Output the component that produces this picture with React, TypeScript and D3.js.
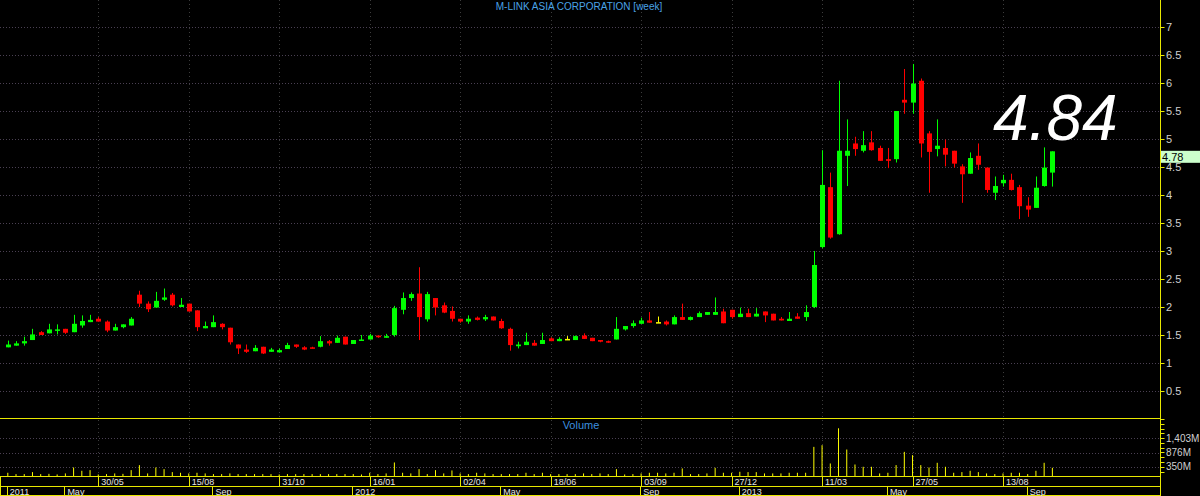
import React from "react";
import * as d3 from "d3";

const TITLE = "M-LINK ASIA CORPORATION [week]";
const LAST_BIG = "4.84";

const open = [1.28,1.31,1.35,1.41,1.55,1.53,1.58,1.61,1.55,1.67,1.73,1.79,1.74,1.58,1.64,1.67,2.22,2.06,1.99,2.13,2.22,2.00,2.06,1.94,1.62,1.64,1.70,1.63,1.33,1.24,1.21,1.29,1.20,1.19,1.25,1.33,1.28,1.28,1.29,1.39,1.36,1.47,1.34,1.41,1.42,1.49,1.45,1.50,1.95,2.16,2.24,1.78,2.16,2.03,1.93,1.79,1.74,1.81,1.78,1.83,1.75,1.61,1.30,1.32,1.36,1.34,1.44,1.39,1.43,1.41,1.49,1.45,1.41,1.39,1.42,1.60,1.66,1.70,1.76,1.73,1.74,1.69,1.82,1.77,1.82,1.86,1.86,1.92,1.95,1.82,1.89,1.83,1.92,1.88,1.79,1.75,1.83,1.82,2.00,3.07,4.14,3.30,4.70,4.92,4.79,4.94,4.84,4.64,4.64,5.70,5.65,6.04,5.10,4.82,4.84,4.79,4.51,4.38,4.70,4.49,4.04,4.21,4.27,4.14,3.81,3.77,4.16,4.40];
const high = [1.40,1.39,1.47,1.61,1.57,1.70,1.69,1.61,1.86,1.85,1.86,1.82,1.76,1.70,1.69,1.82,2.29,2.10,2.27,2.33,2.25,2.16,2.06,1.94,1.74,1.85,1.71,1.63,1.33,1.33,1.32,1.29,1.27,1.26,1.36,1.33,1.30,1.29,1.48,1.41,1.49,1.47,1.41,1.50,1.52,1.49,1.52,2.02,2.26,2.26,2.71,2.27,2.16,2.08,2.01,1.79,1.85,1.83,1.86,1.83,1.79,1.63,1.38,1.54,1.41,1.54,1.46,1.46,1.48,1.49,1.53,1.45,1.41,1.40,1.82,1.66,1.76,1.81,1.91,1.83,1.76,1.85,2.06,1.83,1.92,1.91,2.17,1.97,1.95,1.99,1.97,1.98,1.92,1.88,1.82,1.91,1.89,2.03,3.00,4.80,4.40,6.04,5.35,5.04,5.14,5.14,4.88,4.84,5.50,6.25,6.34,6.08,5.14,5.35,4.99,4.79,4.55,4.76,4.92,4.49,4.33,4.36,4.38,4.18,3.96,4.33,4.85,4.78];
const low = [1.28,1.31,1.31,1.41,1.50,1.53,1.51,1.52,1.55,1.63,1.73,1.74,1.55,1.58,1.62,1.67,2.00,1.91,1.99,2.11,2.01,2.00,1.92,1.57,1.62,1.64,1.60,1.33,1.16,1.18,1.21,1.16,1.20,1.19,1.25,1.27,1.23,1.26,1.28,1.31,1.36,1.33,1.34,1.41,1.42,1.45,1.45,1.47,1.87,2.11,1.41,1.74,1.85,1.89,1.74,1.72,1.70,1.76,1.75,1.76,1.61,1.22,1.26,1.32,1.31,1.34,1.39,1.39,1.42,1.41,1.43,1.39,1.37,1.36,1.42,1.58,1.63,1.70,1.72,1.72,1.67,1.69,1.77,1.76,1.82,1.86,1.86,1.71,1.79,1.82,1.82,1.83,1.73,1.76,1.76,1.75,1.79,1.75,1.98,3.05,3.22,3.29,4.16,4.70,4.76,4.79,4.61,4.48,4.58,5.45,5.45,4.67,4.04,4.69,4.51,4.49,3.86,4.38,4.45,4.04,3.91,4.15,4.08,3.57,3.61,3.77,4.15,4.15];
const close = [1.33,1.35,1.39,1.51,1.50,1.60,1.60,1.54,1.70,1.75,1.77,1.74,1.58,1.64,1.69,1.79,2.06,1.96,2.11,2.17,2.03,2.04,1.92,1.64,1.66,1.73,1.64,1.37,1.26,1.20,1.27,1.17,1.24,1.23,1.32,1.29,1.24,1.26,1.39,1.35,1.45,1.33,1.41,1.42,1.49,1.46,1.48,1.98,2.16,2.23,1.82,2.23,1.99,1.90,1.79,1.74,1.79,1.77,1.82,1.76,1.62,1.32,1.33,1.38,1.31,1.41,1.39,1.43,1.43,1.48,1.43,1.39,1.38,1.37,1.61,1.66,1.71,1.76,1.72,1.73,1.69,1.82,1.77,1.82,1.89,1.91,1.91,1.71,1.82,1.88,1.82,1.88,1.85,1.76,1.76,1.79,1.79,1.91,2.75,4.18,3.24,4.79,4.79,4.82,4.89,4.80,4.61,4.61,5.50,5.65,5.99,4.92,4.77,4.88,4.72,4.56,4.37,4.66,4.54,4.09,4.16,4.27,4.09,3.80,3.74,4.13,4.49,4.78];
// volume in millions
const volume = [130,81,81,154,81,90,68,105,325,203,227,68,81,105,90,227,411,105,325,264,154,130,105,130,105,81,81,105,81,81,81,81,81,68,81,81,81,81,81,81,81,81,81,68,130,81,105,509,130,105,264,81,227,105,215,105,81,130,105,81,81,81,81,130,81,130,81,81,81,81,105,81,105,81,264,68,81,105,130,130,105,130,289,81,81,105,313,130,130,166,154,154,105,105,105,130,130,130,1084,1145,472,1768,986,435,350,350,105,130,411,900,778,411,325,497,350,130,154,203,154,105,81,105,130,130,81,203,497,313];

const priceTicks = [0.5,1,1.5,2,2.5,3,3.5,4,4.5,5,5.5,6,6.5,7];
const volTickLabels = ["350M","876M","1,403M"];
const volTickValues = [350,876,1403];
const dateLabels = ["30/05","15/08","31/10","16/01","02/04","18/06","03/09","27/12","11/03","27/05","13/08"];
const dateIdx = [11,22,33,44,55,66,77,88,99,110,121];
const periodLabels = ["2011","May","Sep","2012","May","Sep","2013","May","Sep"];
const periodIdx = [0,7,25,42,60,77,89,107,124];

const W = 1200, H = 496;
const AXIS_X = 1160.5;
const YEL = "#e8e800";
const FONT = "'Liberation Sans', Arial, sans-serif";

export default function App() {
  const n = open.length;
  const x = d3.scaleLinear().domain([0, n - 1]).range([7.8, 7.8 + (n - 1) * 8.225]);
  const y = d3.scaleLinear().domain([0, 7.482]).range([419, 0]);
  const yv = d3.scaleLinear().domain([0, 1753]).range([476.3, 428.7]);
  const volMinor = d3.range(1, 13).map((k) => k * 175.4);
  const bodyW = 5;

  const candles = d3.range(n).map((i) => {
    const o = open[i], c = close[i];
    const col = c > o ? "#00ff00" : c < o ? "#ff0000" : "#ffff00";
    const cx = Math.round(x(i)) + 0.5;
    const top = y(Math.max(o, c));
    const bot = y(Math.min(o, c));
    return (
      <g key={i}>
        <line x1={cx} x2={cx} y1={y(high[i])} y2={y(low[i])} stroke={col} strokeWidth={1} />
        <rect x={cx - bodyW / 2} y={top} width={bodyW} height={Math.max(1.5, bot - top)} fill={col} />
      </g>
    );
  });

  return (
    <>
      <style>{"body{margin:0;background:#000}"}</style>
      <svg width={W} height={H} style={{ display: "block", background: "#000" }} fontFamily={FONT}>
        <rect x={0} y={0} width={W} height={H} fill="#000" />
        {/* horizontal price grid */}
        {priceTicks.map((t) => (
          <line key={"hg" + t} x1={0} x2={AXIS_X} y1={Math.round(y(t)) + 0.5} y2={Math.round(y(t)) + 0.5}
            stroke="#4a4052" strokeDasharray="1,2" />
        ))}
        {/* volume grid */}
        {volTickValues.map((t) => (
          <line key={"vg" + t} x1={0} x2={AXIS_X} y1={Math.round(yv(t)) + 0.5} y2={Math.round(yv(t)) + 0.5}
            stroke="#4a4052" strokeDasharray="1,2" />
        ))}
        {/* vertical grid */}
        {dateIdx.map((i) => (
          <line key={"vgl" + i} x1={Math.round(x(i)) + 0.5} x2={Math.round(x(i)) + 0.5} y1={0} y2={476}
            stroke="#3c3c3c" strokeDasharray="1,3" />
        ))}
        {/* title */}
        <text x={579} y={10} textAnchor="middle" fontSize={10} fill="#4aa3e6">{TITLE}</text>
        {/* big last price */}
        <text x={993} y={140} fontSize={64} fontStyle="italic" fill="#ffffff">{LAST_BIG}</text>
        {/* candles */}
        {candles}
        {/* volume bars */}
        {volume.map((v, i) => (
          <line key={"v" + i} x1={x(i)} x2={x(i)} y1={yv(0)} y2={yv(v)} stroke="#ffff00" strokeWidth={1} />
        ))}
        <text x={581} y={429} textAnchor="middle" fontSize={11} fill="#3d8fdf">Volume</text>
        {/* panel separators */}
        <line x1={0} x2={AXIS_X} y1={418.5} y2={418.5} stroke={YEL} />
        <line x1={0} x2={AXIS_X} y1={476.5} y2={476.5} stroke={YEL} />
        <line x1={0} x2={AXIS_X} y1={486.5} y2={486.5} stroke={YEL} />
        <line x1={0} x2={AXIS_X} y1={495.5} y2={495.5} stroke={YEL} />
        <line x1={0.5} x2={0.5} y1={476} y2={496} stroke={YEL} />
        <line x1={AXIS_X} x2={AXIS_X} y1={0} y2={H} stroke={YEL} />
        {/* price axis */}
        {priceTicks.map((t) => (
          <g key={"pt" + t}>
            <line x1={AXIS_X} x2={AXIS_X + 4} y1={Math.round(y(t)) + 0.5} y2={Math.round(y(t)) + 0.5} stroke={YEL} />
            <text x={1166} y={y(t)} dy="0.35em" fontSize={11} fill="#d0d0d0">{String(t)}</text>
          </g>
        ))}
        {/* volume axis */}
        {volMinor.map((t) => (
          <line key={"vm" + t} x1={AXIS_X} x2={AXIS_X + 4} y1={Math.round(yv(t)) + 0.5} y2={Math.round(yv(t)) + 0.5} stroke={YEL} />
        ))}
        {volTickValues.map((t, k) => (
          <text key={"vt" + t} x={1166} y={yv(t)} dy="0.35em" fontSize={10} fill="#d0d0d0">{volTickLabels[k]}</text>
        ))}
        {/* last price label */}
        <rect x={1161} y={y(close[n - 1]) - 0.5} width={39} height={12} fill="#ccffcc" />
        <text x={1162} y={y(close[n - 1]) + 6} dy="0.35em" fontSize={11} fill="#000">{close[n - 1].toFixed(2)}</text>
        {/* date axis */}
        {dateIdx.map((i, k) => (
          <g key={"dl" + i}>
            <line x1={Math.round(x(i)) + 0.5} x2={Math.round(x(i)) + 0.5} y1={476} y2={486} stroke={YEL} />
            <text x={x(i) + 3} y={485} fontSize={9} fill="#e6e6e6">{dateLabels[k]}</text>
          </g>
        ))}
        {periodIdx.map((i, k) => (
          <g key={"pl" + k}>
            <line x1={Math.round(x(i)) - 0.5} x2={Math.round(x(i)) - 0.5} y1={486} y2={496} stroke={YEL} />
            <text x={x(i) + 2} y={495} fontSize={9} fill="#e6e6e6">{periodLabels[k]}</text>
          </g>
        ))}
      </svg>
    </>
  );
}
